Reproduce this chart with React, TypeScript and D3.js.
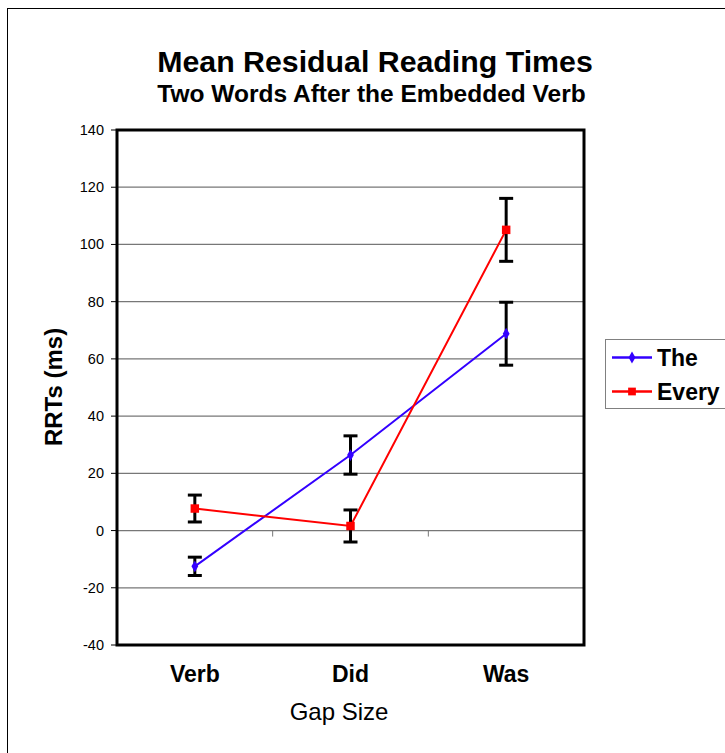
import React, { useRef, useEffect } from 'react';
import * as d3 from 'd3';

const categories = ['Verb', 'Did', 'Was'];
const theValues = [-12.5, 26.4, 68.8];
const theErrors = [3.2, 6.7, 11];
const everyValues = [7.7, 1.6, 105.1];
const everyErrors = [4.7, 5.6, 11];
const yTicks = [-40, -20, 0, 20, 40, 60, 80, 100, 120, 140];

const series = [
  { name: 'The', values: theValues, errors: theErrors, color: '#3300ff', marker: 'diamond' },
  { name: 'Every', values: everyValues, errors: everyErrors, color: '#ff0000', marker: 'square' },
];

const W = 725;
const H = 753;
const left = 117;
const right = 584;
const top = 130;
const bottom = 645;

const App: React.FC = () => {
  const svgRef = useRef<SVGSVGElement | null>(null);

  useEffect(() => {
    const svg = d3.select(svgRef.current!);
    svg.selectAll('*').remove();
    const font = 'Liberation Sans, Arial, sans-serif';

    // outer chart border
    svg.append('rect')
      .attr('x', 7.5).attr('y', 8.5)
      .attr('width', W).attr('height', H)
      .attr('fill', '#fff').attr('stroke', '#000').attr('stroke-width', 1);

    const x = d3.scaleBand().domain(categories).range([left, right]).padding(0);
    const y = d3.scaleLinear().domain([-40, 140]).range([bottom, top]);
    const cx = (c: string) => x(c)! + x.bandwidth() / 2;

    // gridlines
    svg.append('g')
      .selectAll('line')
      .data(yTicks.filter((t) => t !== -40 && t !== 140))
      .enter()
      .append('line')
      .attr('x1', left).attr('x2', right)
      .attr('y1', (d) => y(d)).attr('y2', (d) => y(d))
      .attr('stroke', '#777').attr('stroke-width', 1.2);

    // x axis at zero with ticks between categories
    svg.append('g')
      .selectAll('line')
      .data(categories.slice(1))
      .enter()
      .append('line')
      .attr('x1', (d) => x(d)!).attr('x2', (d) => x(d)!)
      .attr('y1', y(0)).attr('y2', y(0) + 6)
      .attr('stroke', '#777').attr('stroke-width', 1);

    // left axis ticks and labels
    const yAxis = svg.append('g');
    yAxis.selectAll('line')
      .data(yTicks)
      .enter()
      .append('line')
      .attr('x1', left - 6).attr('x2', left)
      .attr('y1', (d) => y(d)).attr('y2', (d) => y(d))
      .attr('stroke', '#000').attr('stroke-width', 1);
    yAxis.selectAll('text')
      .data(yTicks)
      .enter()
      .append('text')
      .attr('x', left - 13)
      .attr('y', (d) => y(d) + 5)
      .attr('text-anchor', 'end')
      .attr('font-family', font)
      .attr('font-size', 14.5)
      .text((d) => d);

    // plot frame
    svg.append('rect')
      .attr('x', left).attr('y', top)
      .attr('width', right - left).attr('height', bottom - top)
      .attr('fill', 'none').attr('stroke', '#000').attr('stroke-width', 3);

    series.forEach((s) => {
      const pts = categories.map((c, i) => ({ c, v: s.values[i], e: s.errors[i] }));
      const line = d3.line<{ c: string; v: number }>().x((d) => cx(d.c)).y((d) => y(d.v));
      svg.append('path')
        .datum(pts)
        .attr('d', line)
        .attr('fill', 'none')
        .attr('stroke', s.color)
        .attr('stroke-width', 2);

      const eb = svg.append('g');
      pts.forEach((p) => {
        const px = cx(p.c);
        eb.append('line').attr('x1', px).attr('x2', px)
          .attr('y1', y(p.v + p.e)).attr('y2', y(p.v - p.e))
          .attr('stroke', '#000').attr('stroke-width', 3);
        [p.v + p.e, p.v - p.e].forEach((v) => {
          eb.append('line').attr('x1', px - 7).attr('x2', px + 7)
            .attr('y1', y(v)).attr('y2', y(v))
            .attr('stroke', '#000').attr('stroke-width', 3);
        });
      });

      const sym = d3.symbol()
        .type(s.marker === 'square' ? d3.symbolSquare : d3.symbolDiamond)
        .size(s.marker === 'square' ? 72 : 40);
      svg.append('g')
        .selectAll('path')
        .data(pts)
        .enter()
        .append('path')
        .attr('d', sym)
        .attr('transform', (d) => `translate(${cx(d.c)},${y(d.v)})`)
        .attr('fill', s.color);
    });

    // category labels
    svg.append('g')
      .selectAll('text')
      .data(categories)
      .enter()
      .append('text')
      .attr('x', (d) => cx(d))
      .attr('y', 682)
      .attr('text-anchor', 'middle')
      .attr('font-family', font)
      .attr('font-weight', 'bold')
      .attr('font-size', 23)
      .text((d) => d);

    svg.append('text')
      .attr('x', 339).attr('y', 720)
      .attr('text-anchor', 'middle')
      .attr('font-family', font)
      .attr('font-size', 24)
      .text('Gap Size');

    svg.append('text')
      .attr('transform', 'translate(62,387) rotate(-90)')
      .attr('text-anchor', 'middle')
      .attr('font-family', font)
      .attr('font-weight', 'bold')
      .attr('font-size', 24)
      .text('RRTs (ms)');

    svg.append('text')
      .attr('x', 375).attr('y', 72)
      .attr('text-anchor', 'middle')
      .attr('font-family', font)
      .attr('font-weight', 'bold')
      .attr('font-size', 30.3)
      .text('Mean Residual Reading Times');

    svg.append('text')
      .attr('x', 371.5).attr('y', 101.5)
      .attr('text-anchor', 'middle')
      .attr('font-family', font)
      .attr('font-weight', 'bold')
      .attr('font-size', 24.5)
      .text('Two Words After the Embedded Verb');

    // legend
    const lg = svg.append('g');
    lg.append('rect')
      .attr('x', 605.5).attr('y', 339.5)
      .attr('width', 120).attr('height', 69)
      .attr('fill', '#fff').attr('stroke', '#808080').attr('stroke-width', 1);
    series.forEach((s, i) => {
      const ly = 357.5 + i * 34;
      lg.append('line').attr('x1', 612).attr('x2', 652)
        .attr('y1', ly).attr('y2', ly)
        .attr('stroke', s.color).attr('stroke-width', 2.5);
      lg.append('path')
        .attr('d', d3.symbol()
          .type(s.marker === 'square' ? d3.symbolSquare : d3.symbolDiamond)
          .size(s.marker === 'square' ? 60 : 40)())
        .attr('transform', `translate(632,${ly})`)
        .attr('fill', s.color);
      lg.append('text')
        .attr('x', 657).attr('y', ly + 8.2)
        .attr('font-family', font)
        .attr('font-weight', 'bold')
        .attr('font-size', 23)
        .text(s.name);
    });
  }, []);

  return (
    <svg
      ref={svgRef}
      width={W}
      height={H}
      style={{ position: 'absolute', left: 0, top: 0 }}
    ></svg>
  );
};

export default App;
